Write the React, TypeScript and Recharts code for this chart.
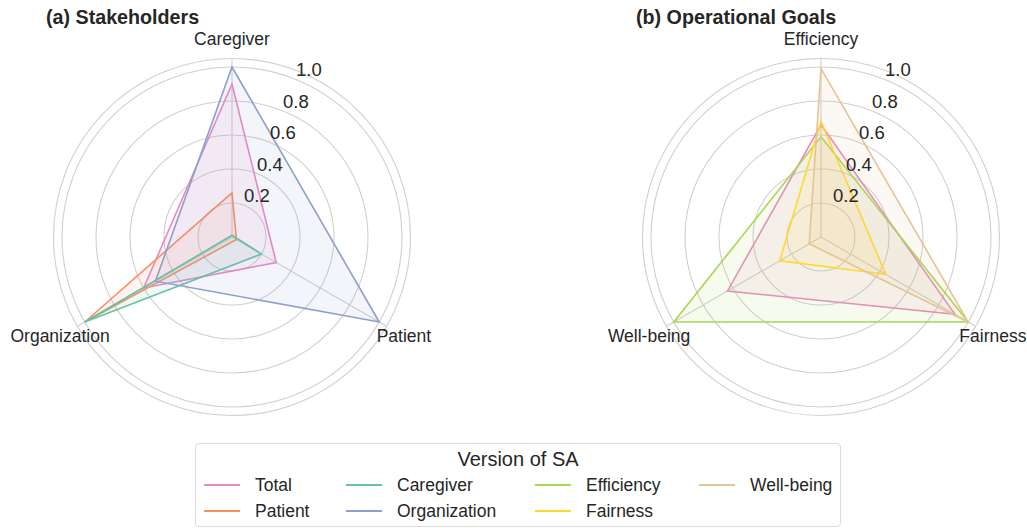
import React from "react";
import { RadarChart, PolarGrid, PolarAngleAxis, PolarRadiusAxis, Radar } from "recharts";

const axesA = ["Caregiver", "Patient", "Organization"];
const totalA = [0.9, 0.3, 0.6];
const patientA = [0.26, 0.03, 1.0];
const caregiverA = [0.01, 0.2, 1.0];
const organizationA = [1.0, 1.0, 0.52];

const axesB = ["Efficiency", "Fairness", "Well-being"];
const totalB = [0.66, 0.91, 0.635];
const efficiencyB = [0.59, 1.0, 1.0];
const fairnessB = [0.68, 0.44, 0.28];
const wellbeingB = [0.99, 1.0, 0.08];

const radiusTicks = [0, 0.2, 0.4, 0.6, 0.8, 1.0];

const FONT = '"Liberation Sans", Arial, Helvetica, sans-serif';
const TEXT = "#262626";

const seriesA = [
  { key: "Total", values: totalA, color: "#e78ac3" },
  { key: "Patient", values: patientA, color: "#fc8d62" },
  { key: "Caregiver", values: caregiverA, color: "#66c2a5" },
  { key: "Organization", values: organizationA, color: "#8da0cb" },
];

const seriesB = [
  { key: "Total", values: totalB, color: "#e78ac3" },
  { key: "Efficiency", values: efficiencyB, color: "#a6d854" },
  { key: "Fairness", values: fairnessB, color: "#ffd92f" },
  { key: "Well-being", values: wellbeingB, color: "#e5c494" },
];

const legendCols = [
  [seriesA[0], seriesA[1]],
  [seriesA[2], seriesA[3]],
  [seriesB[1], seriesB[2]],
  [seriesB[3]],
];

function buildRows(axes: string[], series: { key: string; values: number[] }[]) {
  return axes.map((a, i) => {
    const row: Record<string, string | number> = { axis: a };
    series.forEach((s) => (row[s.key] = s.values[i]));
    return row;
  });
}

const AngleTick = (props: any) => {
  const { x, y, payload } = props;
  return (
    <text x={x} y={y} textAnchor="middle" dominantBaseline="central" fontSize={17.5} fill={TEXT} fontFamily={FONT}>
      {payload.value}
    </text>
  );
};

const RadiusTick = (props: any) => {
  const { x, y, payload } = props;
  if (payload.value === 0) return null;
  return (
    <text x={x - 1} y={y - 10} textAnchor="start" dominantBaseline="central" fontSize={18.5} fill={TEXT} fontFamily={FONT}>
      {payload.value.toFixed(1)}
    </text>
  );
};

function Panel({ axes, series, cx }: { axes: string[]; series: typeof seriesA; cx: number }) {
  const data = buildRows(axes, series);
  return (
    <RadarChart width={487} height={430} data={data} cx={cx} cy={237} outerRadius={178.5} startAngle={90} endAngle={-270}>
      <PolarGrid gridType="circle" stroke="#d0d0d0" strokeWidth={1.1} />
      <PolarAngleAxis
        dataKey="axis"
        tick={<AngleTick />}
        tickLine={false}
        tickSize={20}
        axisLine={{ stroke: "#d0d0d0", strokeWidth: 1.1 }}
        axisLineType="circle"
      />
      <PolarRadiusAxis
        type="number"
        domain={[0, 1.05]}
        ticks={radiusTicks as any}
        angle={67.5}
        axisLine={false}
        tickLine={false}
        tick={<RadiusTick />}
      />
      {series.map((s) => (
        <Radar
          key={s.key}
          name={s.key}
          dataKey={s.key}
          stroke={s.color}
          fill={s.color}
          fillOpacity={0.1}
          strokeWidth={1.6}
          dot={false}
          isAnimationActive={false}
        />
      ))}
    </RadarChart>
  );
}

export default function App() {
  return (
    <div style={{ position: "absolute", left: 0, top: 0, width: 1027, height: 528, background: "#fff", fontFamily: FONT, color: TEXT }}>
      <div style={{ position: "absolute", left: 46, top: 5, fontSize: 19.7, fontWeight: "bold", lineHeight: "24px" }}>
        (a) Stakeholders
      </div>
      <div style={{ position: "absolute", left: 636, top: 5, fontSize: 19.7, fontWeight: "bold", lineHeight: "24px" }}>
        (b) Operational Goals
      </div>
      <div style={{ position: "absolute", left: 0, top: 0 }}>
        <Panel axes={axesA} series={seriesA} cx={232} />
      </div>
      <div style={{ position: "absolute", left: 540, top: 0 }}>
        <Panel axes={axesB} series={seriesB} cx={281} />
      </div>
      <div
        style={{
          position: "absolute",
          left: 195,
          top: 443,
          width: 644,
          height: 82,
          border: "1px solid #dcdcdc",
          borderRadius: 4,
          background: "#fff",
          fontSize: 17.5,
        }}
      >
        <div style={{ position: "absolute", left: 0, width: "100%", top: 3, textAlign: "center", lineHeight: "24px", fontSize: 20 }}>
          Version of SA
        </div>
        {legendCols.map((col, ci) => {
          const lineX = [8, 150, 339, 503][ci];
          return col.map((s, ri) => (
            <div key={s.key + ci} style={{ position: "absolute", left: lineX, top: 30 + ri * 26, height: 22, display: "flex", alignItems: "center" }}>
              <span style={{ display: "inline-block", width: 36, height: 0, borderTop: `2px solid ${s.color}` }} />
              <span style={{ marginLeft: 15, lineHeight: "22px", whiteSpace: "nowrap" }}>{s.key}</span>
            </div>
          ));
        })}
      </div>
    </div>
  );
}
